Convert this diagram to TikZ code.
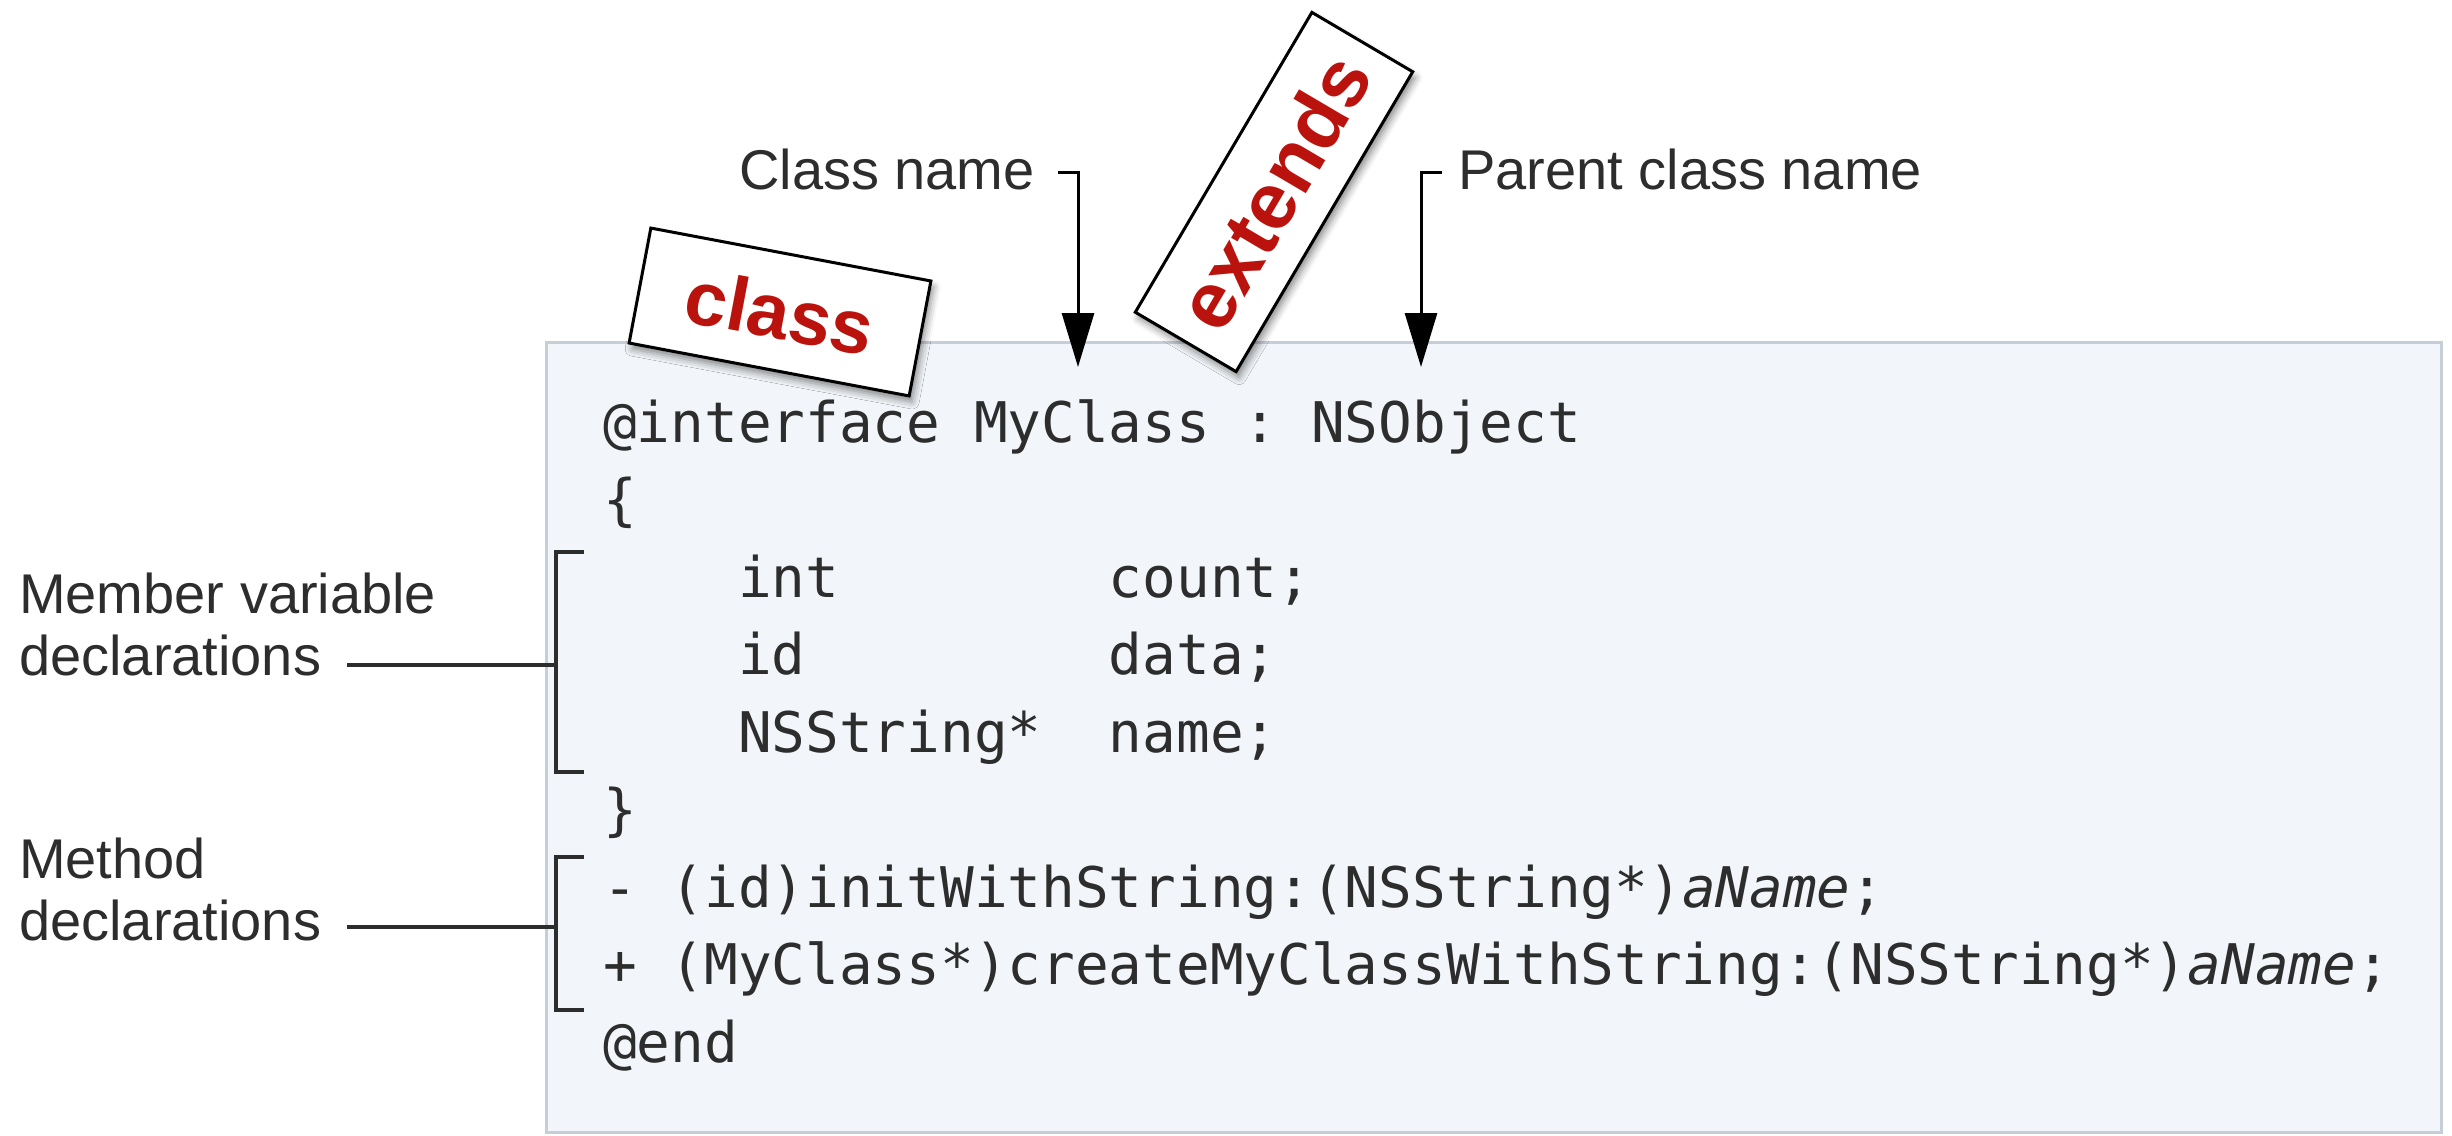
\documentclass[tikz,border=0pt]{standalone}
\usepackage{fontspec}
\setmainfont{Liberation Sans}
\setmonofont{DejaVu Sans Mono}
\usetikzlibrary{arrows.meta,shadows.blur}
\definecolor{codebg}{RGB}{242,245,249}
\definecolor{codeframe}{RGB}{198,206,216}
\definecolor{ink}{RGB}{45,45,45}
\definecolor{notered}{RGB}{186,18,12}

\begin{document}
\begin{tikzpicture}[x=1pt,y=-1pt,
  lbl/.style={font=\fontsize{56}{62}\selectfont, text=ink, inner sep=0pt},
  codeline/.style={font=\ttfamily\fontsize{56}{62}\selectfont, text=ink, inner sep=0pt, anchor=base west},
  note/.style={draw=black, line width=3pt, fill=white, inner sep=0pt, minimum height=117pt,
    text=notered,
    blur shadow={shadow xshift=3pt, shadow yshift=-6pt, shadow blur radius=7pt, shadow opacity=45}},
  pointer/.style={line width=3pt, draw=black, -{Triangle[length=54pt,width=32pt]}},
  brace/.style={line width=3.5pt, draw=ink}
]
\useasboundingbox (0,0) rectangle (2452,1135);

% code panel
\node (code) [fill=codebg, draw=codeframe, line width=3pt, inner sep=0pt,
  minimum width=1895pt, minimum height=790pt, anchor=north west] at (545,341) {};

% source lines
\node (l1) [codeline] at (603,442)   {@interface MyClass : NSObject};
\node (l2) [codeline] at (603,519.5) {\{};
\node (l3) [codeline] at (603,597)   {~~~~int~~~~~~~~count;};
\node (l4) [codeline] at (603,674.5) {~~~~id~~~~~~~~~data;};
\node (l5) [codeline] at (603,752)   {~~~~NSString*~~name;};
\node (l6) [codeline] at (603,829.5) {\}};
\node (l7) [codeline] at (603,907)   {- (id)initWithString:(NSString*)\textit{aName};};
\node (l8) [codeline] at (603,984.5) {+ (MyClass*)createMyClassWithString:(NSString*)\textit{aName};};
\node (l9) [codeline] at (603,1062)  {@end};

% labels
\node (cname) [lbl, anchor=base east] at (1035,189) {Class name};
\node (pname) [lbl, anchor=base west] at (1458,189) {Parent class name};
\node (mv1) [lbl, anchor=base west] at (19,613) {Member variable};
\node (mv2) [lbl, anchor=base west] at (19,675) {declarations};
\node (md1) [lbl, anchor=base west] at (19,878) {Method};
\node (md2) [lbl, anchor=base west] at (19,940) {declarations};

% pointers to the class names
\coordinate (cnStart) at (1058,172);
\coordinate (cnTip) at (1078,367);
\coordinate (pnStart) at (1442,172);
\coordinate (pnTip) at (1421,367);
\draw[pointer] (cnStart) -| (cnTip);
\draw[pointer] (pnStart) -| (pnTip);

% bracket for member variables
\coordinate (mvTop) at (584,552);
\coordinate (mvBot) at (584,772);
\coordinate (mvJoin) at (556,665);
\draw[brace] (mvTop) -- ++(-28,0) |- (mvBot);
\draw[brace] (mv2.base east) ++(26,-10) -- (mvJoin);

% bracket for methods
\coordinate (mdTop) at (584,857);
\coordinate (mdBot) at (584,1010);
\coordinate (mdJoin) at (556,927);
\draw[brace] (mdTop) -- ++(-28,0) |- (mdBot);
\draw[brace] (md2.base east) ++(26,-13) -- (mdJoin);

% keyword notes
\node (kwclass) [note, minimum width=285pt, rotate=-10.7,
  font=\bfseries\fontsize{76}{80}\selectfont] at (780,312) {class};
\node (kwextends) [note, minimum width=348pt, rotate=59.5,
  font=\bfseries\fontsize{80}{84}\selectfont] at (1274,192) {extends};
\end{tikzpicture}
\end{document}
